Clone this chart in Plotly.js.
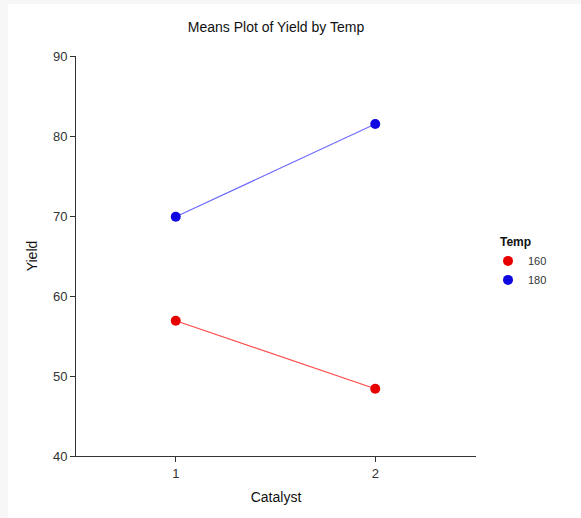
<!DOCTYPE html>
<html>
<head>
<meta charset="utf-8">
<script src="https://cdn.plot.ly/plotly-3.0.1.min.js"></script>
<style>
html,body{margin:0;padding:0;background:#f7f7f7;width:581px;height:518px;overflow:hidden;}
#chart{position:absolute;left:8px;top:4px;width:573px;height:514px;background:#fff;}
</style>
</head>
<body>
<div id="chart"></div>
<script>
const catalyst = [1, 2];
const tempLevels = ["160", "180"];
const yield160 = [56.9, 48.4];
const yield180 = [69.9, 81.5];
const tickVals = [1, 2];
const tickText = ["1", "2"];

const series = [
  {name: tempLevels[0], y: yield160, marker: "#e80000", line: "#ff4a4a"},
  {name: tempLevels[1], y: yield180, marker: "#1008e0", line: "#6f6cff"}
];

const traces = [];
series.forEach(s => {
  traces.push({x: catalyst, y: s.y, mode: "lines", line: {color: s.line, width: 1.2}, showlegend: false, hoverinfo: "skip"});
});
series.forEach(s => {
  traces.push({x: catalyst, y: s.y, mode: "markers", name: s.name,
    marker: {color: s.marker, size: 10, line: {width: 0}}});
});

const layout = {
  width: 573, height: 514,
  paper_bgcolor: "#ffffff", plot_bgcolor: "#ffffff",
  margin: {l: 68, r: 105, t: 52, b: 62},
  font: {family: "Liberation Sans, Arial, sans-serif", color: "#222"},
  title: {text: "Means Plot of Yield by Temp", font: {size: 14, color: "#111"},
          x: 0.5, xref: "paper", xanchor: "center", y: 1 - 23/514, yref: "container", yanchor: "middle"},
  xaxis: {range: [0.5, 2.505], tickvals: tickVals, ticktext: tickText,
          showgrid: false, zeroline: false, showline: true, linecolor: "#333", linewidth: 1,
          ticks: "outside", ticklen: 5, tickcolor: "#333", tickfont: {size: 13, color: "#333"},
          title: {text: "Catalyst", font: {size: 14, color: "#111"}, standoff: 12}, automargin: false},
  yaxis: {range: [40, 90], tickvals: [40, 50, 60, 70, 80, 90],
          showgrid: false, zeroline: false, showline: true, linecolor: "#333", linewidth: 1,
          ticks: "outside", ticklen: 5, tickcolor: "#333", tickfont: {size: 13, color: "#333"},
          title: {text: "Yield", font: {size: 14, color: "#111"}, standoff: 12}, automargin: false},
  legend: {x: 1.055, xanchor: "left", y: 0.563, yanchor: "top",
           title: {text: "<b>Temp</b>", font: {size: 12, color: "#111"}},
           font: {size: 11, color: "#333"}, itemwidth: 30, tracegroupgap: 0, indentation: -10,
           bgcolor: "rgba(0,0,0,0)"},
  showlegend: true
};

Plotly.newPlot("chart", traces, layout, {displayModeBar: false, staticPlot: true});
</script>
</body>
</html>
